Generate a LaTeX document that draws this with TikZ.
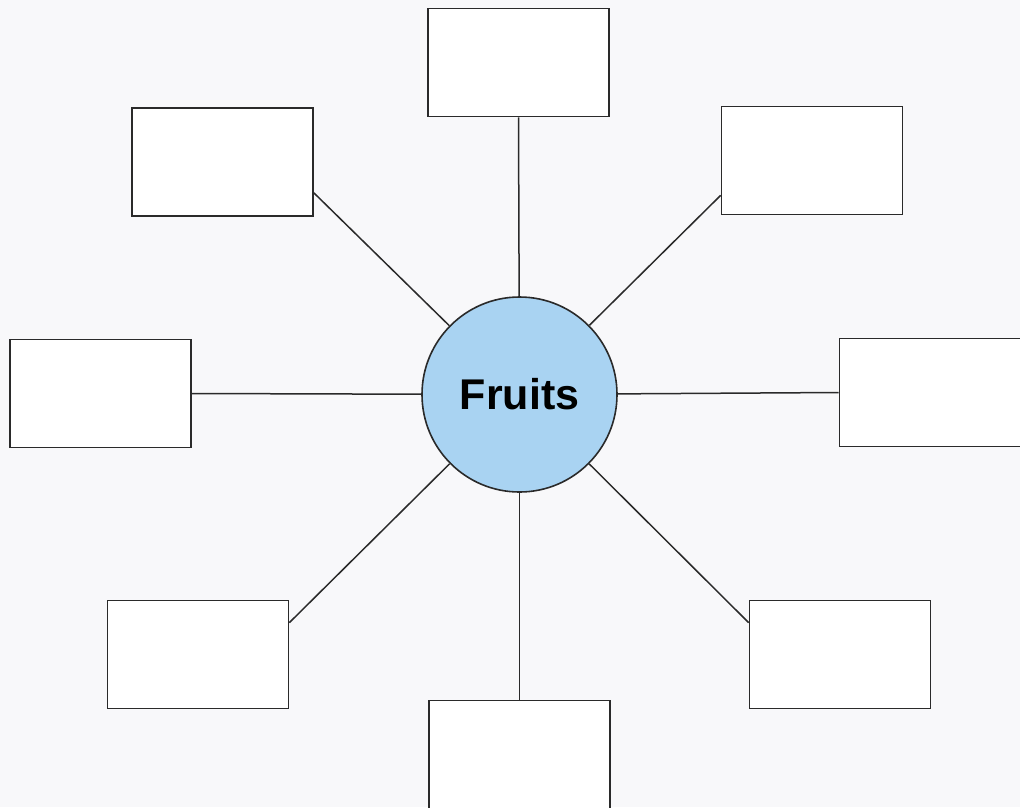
\documentclass[tikz,border=0pt]{standalone}
\usepackage{fontspec}
\setmainfont{Liberation Sans}
\definecolor{bgc}{HTML}{F8F8FA}
\definecolor{hubfill}{HTML}{A9D3F2}
\definecolor{linec}{HTML}{2A2A2A}
\begin{document}
\begin{tikzpicture}[x=1pt,y=-1pt,
  leaf/.style={draw=linec,line width=1.7pt,fill=white,minimum width=181pt,minimum height=108pt,inner sep=0pt},
  hub/.style={circle,draw=linec,line width=1.6pt,fill=hubfill,minimum size=195pt,inner sep=0pt,font=\fontsize{43}{48}\selectfont\bfseries},
  spoke/.style={draw=linec,line width=1.5pt}]
\fill[bgc] (0,0) rectangle (1020,807);
\useasboundingbox (0,0) rectangle (1020,807);
\node[hub] (c) at (519.5,394.5) {Fruits};
\node[leaf] (t) at (518.5,62.5) {};
\node[leaf] (tl) at (222.5,162) {};
\node[leaf] (tr) at (812,160.5) {};
\node[leaf] (l) at (100.5,393.5) {};
\node[leaf] (r) at (930,392.5) {};
\node[leaf] (bl) at (198,654.5) {};
\node[leaf] (br) at (840,654.5) {};
\node[leaf] (b) at (519.5,754.5) {};
\draw[spoke] (t.south) -- (c);
\draw[spoke] ([yshift=24pt]tl.south east) -- (c);
\draw[spoke] ([yshift=20pt]tr.south west) -- (c);
\draw[spoke] (l.east) -- (c);
\draw[spoke] (r.west) -- (c);
\draw[spoke] ([yshift=-23pt]bl.north east) -- (c);
\draw[spoke] ([yshift=-23pt]br.north west) -- (c);
\draw[spoke] (b.north) -- (c);
\end{tikzpicture}
\end{document}
